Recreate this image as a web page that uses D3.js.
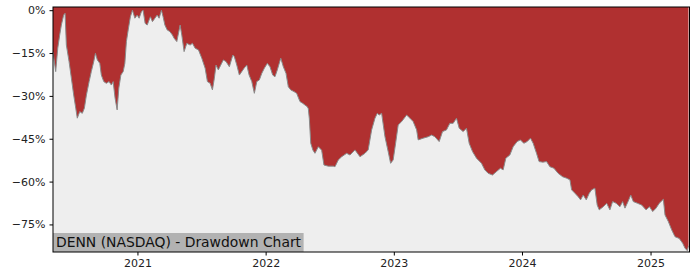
<!DOCTYPE html>
<html><head><meta charset="utf-8">
<script src="https://cdn.jsdelivr.net/npm/d3@7"></script>
<style>body{margin:0;background:#fff}svg{display:block}</style>
</head><body>
<svg id="c" width="700" height="280"></svg>
<script>
// decimal-year dates and drawdown (%)
const dates = [2020.343,2020.364,2020.380,2020.395,2020.408,2020.426,2020.437,2020.447,2020.468,2020.486,2020.504,2020.520,2020.532,2020.551,2020.571,2020.587,2020.603,2020.624,2020.641,2020.660,2020.673,2020.688,2020.707,2020.719,2020.738,2020.758,2020.779,2020.797,2020.811,2020.826,2020.842,2020.855,2020.871,2020.889,2020.902,2020.914,2020.928,2020.945,2020.961,2020.980,2020.998,2021.013,2021.031,2021.044,2021.060,2021.076,2021.091,2021.101,2021.117,2021.136,2021.154,2021.169,2021.187,2021.200,2021.214,2021.232,2021.253,2021.273,2021.286,2021.307,2021.333,2021.346,2021.364,2021.385,2021.411,2021.429,2021.450,2021.476,2021.502,2021.528,2021.546,2021.567,2021.585,2021.600,2021.613,2021.631,2021.650,2021.670,2021.691,2021.717,2021.744,2021.756,2021.775,2021.795,2021.814,2021.832,2021.853,2021.871,2021.892,2021.912,2021.931,2021.951,2021.970,2021.990,2022.013,2022.034,2022.055,2022.073,2022.091,2022.118,2022.138,2022.159,2022.177,2022.196,2022.221,2022.242,2022.268,2022.289,2022.307,2022.325,2022.333,2022.341,2022.352,2022.369,2022.385,2022.411,2022.437,2022.455,2022.489,2022.528,2022.541,2022.567,2022.593,2022.632,2022.658,2022.697,2022.736,2022.775,2022.800,2022.827,2022.853,2022.871,2022.886,2022.905,2022.931,2022.956,2022.975,2022.995,2023.014,2023.034,2023.061,2023.100,2023.126,2023.151,2023.178,2023.190,2023.229,2023.268,2023.295,2023.320,2023.354,2023.380,2023.411,2023.437,2023.463,2023.489,2023.510,2023.541,2023.567,2023.588,2023.614,2023.645,2023.684,2023.710,2023.736,2023.770,2023.801,2023.832,2023.853,2023.874,2023.905,2023.931,2023.962,2023.988,2024.014,2024.040,2024.066,2024.087,2024.113,2024.133,2024.162,2024.191,2024.217,2024.248,2024.281,2024.316,2024.347,2024.373,2024.386,2024.412,2024.437,2024.456,2024.476,2024.500,2024.523,2024.542,2024.567,2024.585,2024.601,2024.632,2024.659,2024.684,2024.705,2024.733,2024.762,2024.783,2024.801,2024.825,2024.846,2024.866,2024.899,2024.931,2024.965,2024.992,2025.017,2025.043,2025.068,2025.100,2025.113,2025.139,2025.165,2025.191,2025.224,2025.251,2025.269,2025.287,2025.296];
const drawdown = [-14.6,-21.5,-13.3,-8.7,-5.2,-1.7,-1.1,-12.2,-18,-23.8,-29.7,-34.3,-37.8,-35.5,-36.1,-34.3,-29.7,-25,-21.5,-18,-15.1,-17.4,-18.6,-22.7,-25,-25.6,-25,-26.2,-25,-30.8,-34.9,-27.3,-22.7,-21.5,-18.6,-11,-6.9,-2.3,0,-2.8,-1.7,-2.8,-0.5,0,-4.6,-5.2,-3.4,-2.3,-4,-2.8,-1.7,-2.8,0,-2.3,-5.2,-6.9,-7.5,-8.7,-9.8,-11,-5.2,-8.7,-14.5,-11.6,-12.2,-11.6,-13.3,-13.9,-16.8,-20.3,-25,-25.6,-27.9,-23.8,-19.2,-20.9,-19.2,-17.4,-18,-19.8,-15.7,-16.3,-19.2,-22.7,-21.5,-20.3,-19.2,-22.7,-25,-29.1,-25,-24.4,-22.1,-20.3,-18.6,-19.8,-22.7,-23.3,-20.9,-16.8,-19.8,-22.1,-26.8,-27.9,-28.5,-29.1,-32,-32.6,-33.2,-33.8,-34.5,-38,-46.6,-49,-50.1,-47.8,-49,-54.2,-54.6,-54.6,-54.8,-52.4,-51.3,-50.1,-50.7,-48.9,-51.3,-50.1,-48.9,-41.9,-37.8,-36.1,-36.7,-36.1,-44.3,-49.5,-53.6,-52.4,-46.6,-40.2,-39,-36.7,-37.8,-39,-41.9,-45.4,-44.8,-44.3,-43.7,-44.3,-46,-42.5,-41.9,-39.6,-39.6,-37.8,-41.3,-42.5,-41.3,-46.6,-49.5,-51.8,-53.6,-55.9,-57.1,-57.7,-56.5,-55.3,-55.9,-51.8,-50.7,-47.8,-46,-45.4,-46.6,-46,-44.8,-46.6,-50.1,-53,-53.2,-53,-54.8,-55.3,-57.1,-58.3,-58.8,-59.4,-62.9,-64.1,-65.3,-66.4,-64.7,-66.4,-64.1,-62.9,-62.3,-68.2,-69.9,-68.8,-67.6,-69.9,-67,-67.6,-68.8,-67,-69.3,-67,-64.7,-67,-67.6,-68.2,-69.9,-68.8,-70.5,-69.3,-67.6,-66.2,-71.7,-74,-76.9,-79.3,-79.9,-81.6,-83.3,-84.2,-82.5];
const yTicks = [0,-15,-30,-45,-60,-75];
const xTickYears = [2021,2022,2023,2024,2025];
const title = "DENN (NASDAQ) - Drawdown Chart";

function decToDate(d){
  const y = Math.floor(d);
  const s = new Date(y,0,1), e = new Date(y+1,0,1);
  return new Date(s.getTime() + (d-y)*(e-s));
}
const data = dates.map((d,i)=>({date:decToDate(d), v:drawdown[i]}));

const L=53, R=689.5, T=7, B=252;
const svg = d3.select("#c");
const x = d3.scaleTime().domain([decToDate(2020.343), decToDate(2025.304)]).range([L,R]);
const y = d3.scaleLinear().domain([-84.65, 1.12]).range([B,T]);

svg.append("rect").attr("x",L).attr("y",T).attr("width",R-L).attr("height",B-T).attr("fill","#eeeeee");

const area = d3.area().x(d=>x(d.date)).y0(T).y1(d=>y(d.v));
svg.append("path").datum(data).attr("d",area).attr("fill","#b03030");
const line = d3.line().x(d=>x(d.date)).y(d=>y(d.v));
svg.append("path").datum(data).attr("d",line).attr("fill","none").attr("stroke","#8a8a8a").attr("stroke-width",1);

// label box
const g = svg.append("g");
const txt = g.append("text").attr("x",L+3).attr("y",B-5).attr("font-family","DejaVu Sans").attr("font-size",13.9).attr("fill","#111").text(title);
const bb = txt.node().getBBox();
g.insert("rect","text").attr("x",L).attr("y",B-19).attr("width",bb.width+5).attr("height",19).attr("fill","#b2b2b2");

// frame
svg.append("rect").attr("x",L).attr("y",T).attr("width",R-L).attr("height",B-T).attr("fill","none").attr("stroke","#000").attr("stroke-width",1);

const yAxis = d3.axisLeft(y).tickValues(yTicks).tickSize(3.5).tickPadding(4).tickFormat(d=> (d<0?"\u2212":"") + Math.abs(d) + "%");
const ya = svg.append("g").attr("transform",`translate(${L},0)`).call(yAxis);
const xAxis = d3.axisBottom(x).tickValues(xTickYears.map(v=>new Date(v,0,1))).tickSize(3.5).tickPadding(4).tickFormat(d3.timeFormat("%Y"));
const xa = svg.append("g").attr("transform",`translate(0,${B})`).call(xAxis);
[ya,xa].forEach(a=>{
  a.select(".domain").remove();
  a.selectAll("text").attr("font-family","DejaVu Sans").attr("font-size",11).attr("fill","#222");
  a.selectAll("line").attr("stroke","#000");
});
</script>
</body></html>
